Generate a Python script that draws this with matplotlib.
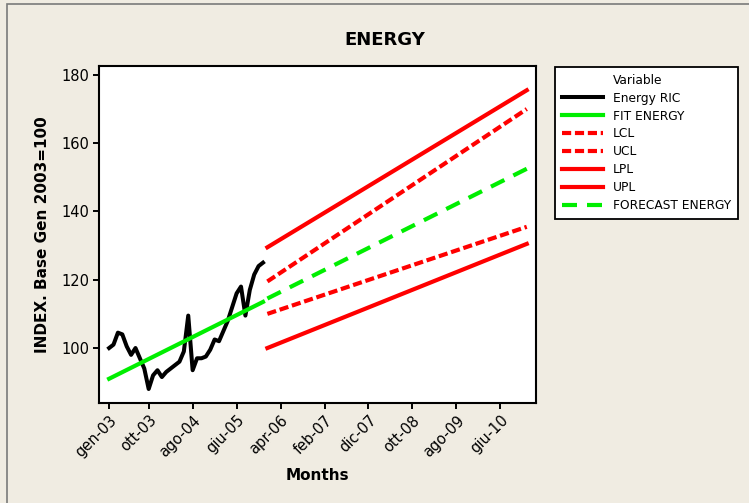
import numpy as np
import matplotlib
matplotlib.use("Agg")
import matplotlib.pyplot as plt
from matplotlib.lines import Line2D
from matplotlib.patches import Rectangle

# monthly index, gen-03 .. dic-05
energy_ric = [100.0, 101.0, 104.5, 104.0, 100.5, 98.0, 100.0, 97.0, 94.0, 88.0,
              92.0, 93.5, 91.5, 93.0, 94.0, 95.0, 96.0, 99.0, 109.5, 93.5,
              97.0, 97.0, 97.5, 99.5, 102.5, 102.0, 105.0, 108.0, 112.0, 116.0,
              118.0, 109.5, 117.0, 121.5, 124.0, 125.0]
ric_months = np.arange(1, len(energy_ric) + 1)

# linear trend over the observed period (end points)
fit_months = [1, 36]
fit_energy = [91.0, 113.5]

# forecast gen-06 .. dic-10 with confidence / prediction limits (end points)
fc_months = [37, 96]
forecast = [114.5, 152.5]
lcl = [110.0, 135.5]
ucl = [119.5, 170.0]
lpl = [100.0, 130.5]
upl = [129.5, 175.5]

tick_months = [1, 10, 20, 30, 40, 50, 60, 70, 80, 90]
tick_labels = ["gen-03", "ott-03", "ago-04", "giu-05", "apr-06",
               "feb-07", "dic-07", "ott-08", "ago-09", "giu-10"]

BG = "#f0ece2"
RED = "#ff0000"
GREEN = "#00ee00"

plt.rcParams['font.family'] = ['DejaVu Sans']

W, H = 749, 503
fig = plt.figure(figsize=(W / 100, H / 100), dpi=100, facecolor=BG)

# outer frame of the graph window (only left and top edges fall inside)
fig.patches.append(Rectangle((7 / W, -0.1), 1.2, 1.1 - 4 / H, transform=fig.transFigure,
                             fill=False, edgecolor="#7a7a7a", lw=1.2))

ax = fig.add_axes([99 / W, 1 - 403 / H, 437 / W, 337 / H])
ax.set_facecolor("white")

ax.plot(ric_months, energy_ric, color="black", lw=2.9, label="Energy RIC")
ax.plot(fit_months, fit_energy, color=GREEN, lw=3.0, label="FIT ENERGY")
ax.plot(fc_months, lcl, color=RED, lw=3.0, dashes=(2.2, 0.9), dash_capstyle="butt", label="LCL")
ax.plot(fc_months, ucl, color=RED, lw=3.0, dashes=(2.2, 0.9), dash_capstyle="butt", label="UCL")
ax.plot(fc_months, lpl, color=RED, lw=3.0, label="LPL")
ax.plot(fc_months, upl, color=RED, lw=3.0, label="UPL")
ax.plot(fc_months, forecast, color=GREEN, lw=3.0, dashes=(3.6, 2.4), dash_capstyle="butt",
        label="FORECAST ENERGY")

ax.set_xlim(-1.3, 98.1)
ax.set_ylim(83.9, 182.6)
ax.set_yticks([100, 120, 140, 160, 180])
ax.set_xticks(tick_months)
ax.set_xticklabels(tick_labels, rotation=45, ha="right", rotation_mode="anchor")
ax.tick_params(direction="out", length=4, width=1.4, labelsize=10.5, pad=3)
for s in ax.spines.values():
    s.set_linewidth(1.5)

ax.set_xlabel("Months", fontsize=11, fontweight="bold", labelpad=6)
ax.set_ylabel("INDEX. Base Gen 2003=100", fontsize=11, fontweight="bold", labelpad=8)
fig.text(385 / W, 1 - 40 / H, "ENERGY", ha="center", va="center",
         fontsize=13, fontweight="bold")

# legend with a blank first row acting as the "Variable" heading
handles, labels = ax.get_legend_handles_labels()
blank = Line2D([], [], color="none")
leg = ax.legend([blank] + handles, ["Variable"] + labels,
                loc="upper left", bbox_to_anchor=(555 / W, 1 - 67 / H),
                bbox_transform=fig.transFigure, fontsize=8.8, frameon=True,
                fancybox=False, edgecolor="black", facecolor="white", framealpha=1,
                handlelength=3.4, handletextpad=0.8, labelspacing=0.40,
                borderpad=0.55, borderaxespad=0)
leg.get_frame().set_linewidth(1.3)

fig.savefig("out.png", dpi=100, facecolor=BG)
